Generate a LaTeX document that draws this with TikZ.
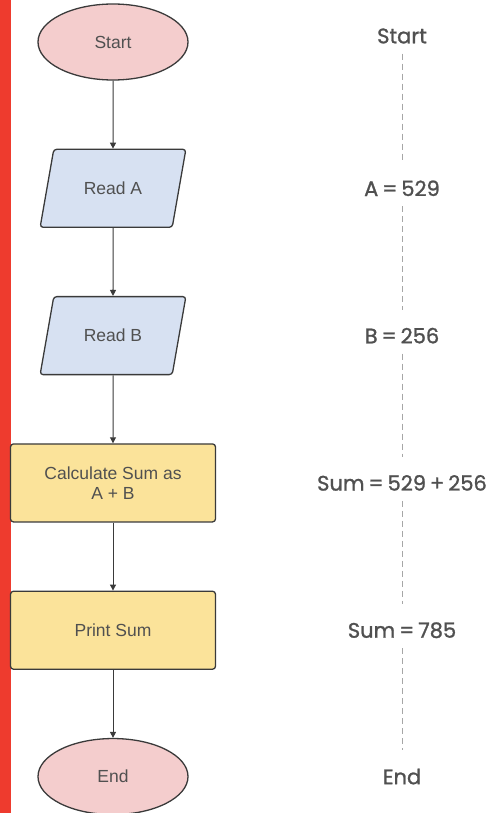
\documentclass[tikz,border=0pt]{standalone}
\usepackage{fontspec}
\setmainfont{Liberation Sans}
\newfontfamily\tracefont[FakeBold=1.2,WordSpace=0.7]{Poppins}
\usetikzlibrary{arrows.meta,positioning,shapes.geometric,calc}
\definecolor{termfill}{HTML}{F4CDCD}
\definecolor{iofill}{HTML}{D7E1F2}
\definecolor{procfill}{HTML}{FBE39A}
\definecolor{edgecol}{HTML}{3A3A3A}
\definecolor{textcol}{HTML}{505050}
\definecolor{barred}{HTML}{EE3B2E}
\tikzset{
  terminal/.style={ellipse, draw=edgecol, line width=1.3pt, fill=termfill,
    minimum width=150pt, minimum height=76pt, font=\fontsize{17.5}{20}\selectfont,
    text=textcol},
  iobox/.style={trapezium, trapezium left angle=69, trapezium right angle=111,
    trapezium stretches=true, draw=edgecol, line width=1.3pt, fill=iofill,
    rounded corners=3pt, minimum width=147pt, minimum height=78pt,
    font=\fontsize{17.5}{20}\selectfont, text=textcol},
  procbox/.style={rectangle, draw=edgecol, line width=1.3pt, fill=procfill,
    rounded corners=3pt, minimum width=205pt, minimum height=78pt, align=center,
    font=\fontsize{17.5}{20}\selectfont, text=textcol},
  trace/.style={font=\tracefont\fontsize{21}{24}\selectfont, text=textcol,
    inner sep=0pt},
  arrow/.style={-{Triangle[length=6pt,width=6pt]}, line width=1pt, draw=edgecol},
  traceline/.style={draw=gray!70, line width=0.6pt, dash pattern=on 6pt off 4pt,
    shorten <=10pt, shorten >=18pt}
}
\begin{document}
\begin{tikzpicture}[node distance=68pt]
  \useasboundingbox (0,0) rectangle (492pt,-813pt);
  \fill[barred] (0,0) rectangle (11pt,-813pt);
  % flowchart
  \node[terminal] (start) at (113pt,-42pt) {Start};
  \node[iobox, below=of start] (reada) {Read A};
  \node[iobox, below=of reada] (readb) {Read B};
  \node[procbox, below=of readb] (calc) {Calculate Sum as\\A + B};
  \node[procbox, below=of calc] (print) {Print Sum};
  \node[terminal, below=of print] (stop) {End};
  \draw[arrow] (start) -- (reada);
  \draw[arrow] (reada) -- (readb);
  \draw[arrow] (readb) -- (calc);
  \draw[arrow] (calc) -- (print);
  \draw[arrow] (print) -- (stop);
  % trace column
  \coordinate (col) at (402pt,0);
  \node[trace] (tstart) at ($(start -| col)+(0,6pt)$) {Start};
  \node[trace] (ta) at (reada -| col) {A = 529};
  \node[trace] (tb) at (readb -| col) {B = 256};
  \node[trace] (tsum) at (calc -| col) {Sum = 529 + 256};
  \node[trace] (tprint) at (print -| col) {Sum = 785};
  \node[trace] (tend) at (stop -| col) {End};
  \draw[traceline] (tstart.south) -- (ta.north);
  \draw[traceline] (ta.south) -- (tb.north);
  \draw[traceline] (tb.south) -- (tsum.north);
  \draw[traceline] (tsum.south) -- (tprint.north);
  \draw[traceline] (tprint.south) -- (tend.north);
\end{tikzpicture}
\end{document}
